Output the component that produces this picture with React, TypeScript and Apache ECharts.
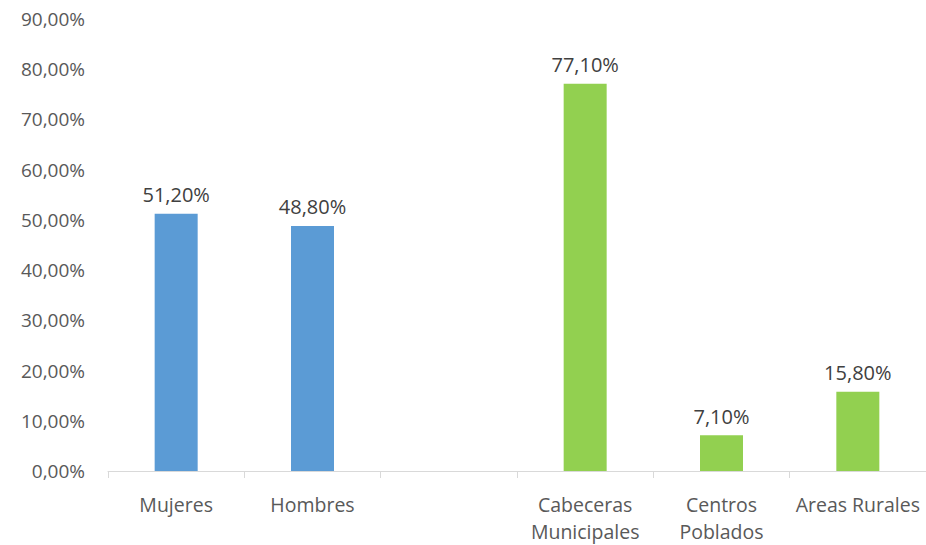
import React, { useEffect, useRef } from "react";
import * as echarts from "echarts";

const categories = ["Mujeres", "Hombres", "", "Cabeceras\nMunicipales", "Centros\nPoblados", "Areas Rurales"];
const values: (number | null)[] = [51.2, 48.8, null, 77.1, 7.1, 15.8];
const barColors = ["#5B9BD5", "#5B9BD5", "#5B9BD5", "#92D050", "#92D050", "#92D050"];

const fmt = (v: number) => v.toFixed(2).replace(".", ",") + "%";

export default function App() {
  const ref = useRef<HTMLDivElement>(null);
  useEffect(() => {
    if (!ref.current) return;
    const chart = echarts.init(ref.current, null, { renderer: "svg" });
    const font = "'Open Sans', 'Noto Sans', sans-serif";
    chart.setOption({
      animation: false,
      grid: { left: 108, top: 19, width: 820, bottom: 71, containLabel: false },
      xAxis: {
        type: "category",
        data: categories,
        axisLine: { lineStyle: { color: "#D9D9D9", width: 1 } },
        axisTick: { show: true, length: 7, lineStyle: { color: "#D9D9D9" } },
        axisLabel: {
          color: "#595959",
          fontSize: 19.5,
          fontFamily: font,
          margin: 20,
          lineHeight: 27,
          interval: 0,
        },
      },
      yAxis: {
        type: "value",
        min: 0,
        max: 90,
        interval: 10,
        axisLine: { show: false },
        axisTick: { show: false },
        splitLine: { show: false },
        axisLabel: {
          color: "#595959",
          fontSize: 19,
          fontFamily: font,
          margin: 23,
          formatter: (v: number) => fmt(v),
        },
      },
      series: [
        {
          type: "bar",
          barWidth: 43,
          data: values.map((v, i) => ({ value: v === null ? "-" : v, itemStyle: { color: barColors[i] } })),
          label: {
            show: true,
            position: "top",
            distance: 9,
            color: "#404040",
            fontSize: 20,
            fontFamily: font,
            formatter: (p: any) => fmt(p.value),
          },
        },
      ],
    });
    return () => chart.dispose();
  }, []);
  return <div ref={ref} style={{ width: 926, height: 545, position: "absolute", left: 0, top: 0 }} />;
}
